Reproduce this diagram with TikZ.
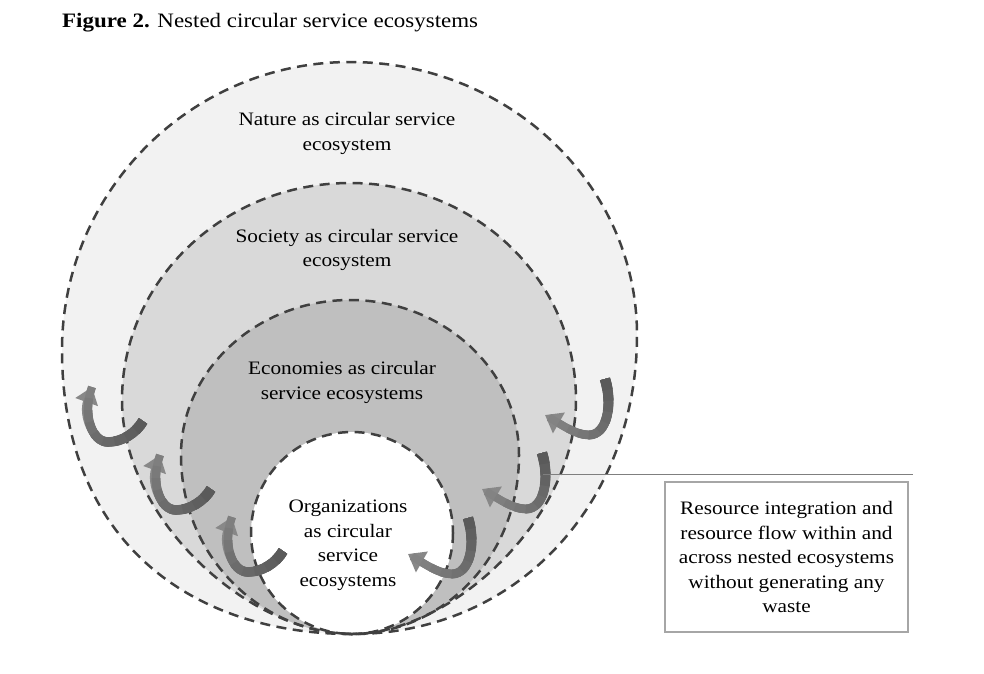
\documentclass[tikz,border=0pt]{standalone}
\usepackage{fontspec}
\setmainfont[FakeStretch=1.12]{Liberation Serif}
\usetikzlibrary{arrows.meta}
\definecolor{natfill}{HTML}{F2F2F2}
\definecolor{socfill}{HTML}{D9D9D9}
\definecolor{ecofill}{HTML}{BFBFBF}
\definecolor{dashcol}{HTML}{404040}
\definecolor{arrdark}{HTML}{5A5A5A}
\definecolor{arrlight}{HTML}{888888}
\definecolor{boxline}{HTML}{A6A6A6}
\definecolor{leadcol}{HTML}{7F7F7F}
\def\naturepath{(352,634) .. controls (190,634) and (62,540) .. (62,350) .. controls (62,191.5) and (191,62) .. (350,62) .. controls (508.5,62) and (637,184.8) .. (637,335) .. controls (637,500) and (520,634) .. (352,634) -- cycle}
\def\societypath{(352,634) .. controls (250,634) and (122,520) .. (122,400) .. controls (122,280) and (224,183) .. (350,183) .. controls (476,183) and (576,280) .. (576,400) .. controls (576,520) and (450,634) .. (352,634) -- cycle}
\def\economypath{(352,634) .. controls (265,634) and (181,560) .. (181,455) .. controls (181,370) and (257,300) .. (350,300) .. controls (443,300) and (519,370) .. (519,455) .. controls (519,560) and (440,634) .. (352,634) -- cycle}
\def\orgpath{(352,533) circle[radius=101]}
\def\larrpath{(51,34) .. controls (44,46) and (30,55) .. (16,55) .. controls (0,55) and (-10,28) .. (0,0)}
\def\rarrpath{(60,-36) .. controls (68,-10) and (62,20) .. (44,20) .. controls (30,20) and (14,8) .. (0,0)}
\begin{document}
\begin{tikzpicture}[x=1pt,y=-1pt,
  eco/.style={draw=dashcol, line width=2.5pt, dash pattern=on 10pt off 6.5pt},
  lbl/.style={align=center, font=\fontsize{19}{24.5}\selectfont, inner sep=0pt},
  arrbase/.style={draw=arrlight, line width=7.5pt, -{Triangle[width=23pt,length=16pt]}},
  arrlayer/.style={line width=#1},
  larrow/.pic={
    \draw[arrbase] \larrpath;
    \foreach \k in {1,...,10}{
      \pgfmathsetmacro{\pc}{\k*10}
      \pgfmathsetmacro{\len}{12*(11-\k)}
      \pgfmathsetmacro{\lw}{7.5+0.3*\k}
      \draw[draw=arrdark!\pc!arrlight, line width=\lw pt, dash pattern=on \len pt off 600pt] \larrpath;
    }
  },
  rarrow/.pic={
    \draw[arrbase] \rarrpath;
    \foreach \k in {1,...,10}{
      \pgfmathsetmacro{\pc}{\k*10}
      \pgfmathsetmacro{\len}{11*(11-\k)}
      \pgfmathsetmacro{\lw}{7.5+0.3*\k}
      \draw[draw=arrdark!\pc!arrlight, line width=\lw pt, dash pattern=on \len pt off 600pt] \rarrpath;
    }
  }]
\useasboundingbox[fill=white] (0,0) rectangle (984,673);
% fills
\fill[natfill] \naturepath;
\fill[socfill] \societypath;
\fill[ecofill] \economypath;
\fill[white] \orgpath;
% outlines
\draw[eco] \naturepath;
\draw[eco] \societypath;
\draw[eco] \economypath;
\draw[eco] \orgpath;
% title
\node[anchor=base west, inner sep=0pt, font=\fontsize{20.5}{24}\selectfont] (title) at (62,27) {\textbf{Figure 2.} Nested circular service ecosystems};
% labels
\node[lbl] (nat) at (347,133.5) {Nature as circular service\\ecosystem};
\node[lbl] (soc) at (347,250) {Society as circular service\\ecosystem};
\node[lbl] (econ) at (342,382.5) {Economies as circular\\service ecosystems};
\node[lbl] (org) at (348,545) {Organizations\\as circular\\service\\ecosystems};
% arrows
\pic at (92,387) {larrow};
\pic at (160,455) {larrow};
\pic at (232,517) {larrow};
\pic at (545,415) {rarrow};
\pic at (482,489) {rarrow};
\pic at (408,554) {rarrow};
% leader line and box
\coordinate (leadstart) at (543,474);
\coordinate (leadend) at (913,474);
\draw[leadcol, line width=1pt] (leadstart) -- (leadend);
\node[lbl, draw=boxline, line width=2pt, fill=white, minimum width=243pt, minimum height=150pt] (box) at (786.5,557) {Resource integration and\\resource flow within and\\across nested ecosystems\\without generating any\\waste};
\end{tikzpicture}
\end{document}
